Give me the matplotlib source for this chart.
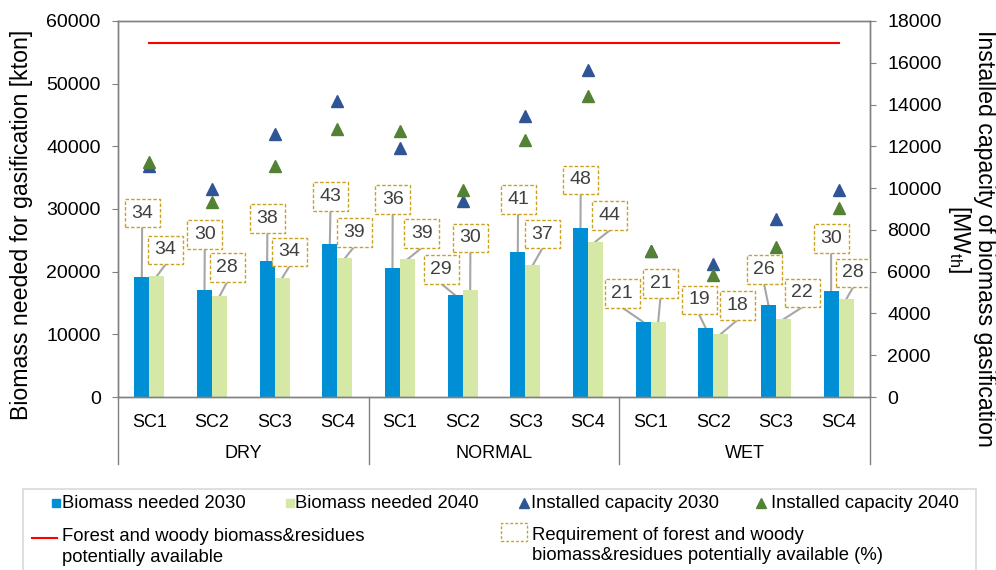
import numpy as np
import matplotlib
matplotlib.use('Agg')
import matplotlib.pyplot as plt
import matplotlib.transforms as mtransforms
from matplotlib.patches import Rectangle
from matplotlib.lines import Line2D

plt.rcParams['font.family'] = ['Liberation Sans', 'DejaVu Sans']
plt.rcParams['mathtext.fontset'] = 'custom'
plt.rcParams['mathtext.rm'] = 'Liberation Sans'

# data
scenarios = ['SC1', 'SC2', 'SC3', 'SC4'] * 3
years = ['DRY', 'NORMAL', 'WET']

biomass_2030 = [19150, 17120, 21650, 24360, 20530, 16230, 23140, 26910, 11970, 10960, 14630, 16910]
biomass_2040 = [19300, 16070, 18990, 22130, 21970, 17020, 21060, 24790, 11970, 10050, 12400, 15590]
capacity_2030 = [11060, 9970, 12600, 14170, 11900, 9400, 13450, 15670, 6990, 6370, 8520, 9890]
capacity_2040 = [11250, 9320, 11040, 12850, 12750, 9920, 12290, 14390, 7000, 5830, 7200, 9050]
forest_avail = [56500, 56500, 56500, 56500, 56500, 56500, 56500, 56500, 56500, 56500, 56500, 56500]
req_2030 = [34, 30, 38, 43, 36, 29, 41, 48, 21, 19, 26, 30]
req_2040 = [34, 28, 34, 39, 39, 30, 37, 44, 21, 18, 22, 28]

# where the % boxes sit (x offset from category, y in kton)
lab_dx_2030 = [-0.115, -0.115, -0.117, -0.11, -0.117, -0.343, -0.117, -0.117, -0.455, -0.228, -0.19, -0.121]
lab_y_2030 = [29360, 25960, 28520, 32000, 31550, 20380, 31550, 34630, 16570, 15480, 20300, 25340]
lab_dx_2040 = [0.26, 0.24, 0.235, 0.27, 0.35, 0.123, 0.27, 0.35, 0.156, 0.38, 0.416, 0.23]
lab_y_2040 = [23460, 20620, 23140, 26280, 26120, 25380, 25990, 28910, 18110, 14550, 16600, 19790]

BLUE = '#008FD5'
GREEN = '#D5E8A5'
TRI_BLUE = '#2F5597'
TRI_GREEN = '#548235'
RED = '#FF0000'
GOLD = '#C9A020'
GREY = '#808080'
LEAD = '#A6A6A6'
TXT = '#404040'

W, H = 996, 570
def fx(p):
    return p / W
def fy(p):
    return 1 - p / H

fig = plt.figure(figsize=(W / 100, H / 100), dpi=100)
ax_l, ax_r, ax_t, ax_b = 118, 870, 21, 397
ax = fig.add_axes([fx(ax_l), fy(ax_b), (ax_r - ax_l) / W, (ax_b - ax_t) / H])

x = np.arange(len(scenarios))
bw = 0.24
ax.bar(x - bw / 2, biomass_2030, bw, color=BLUE, zorder=2)
ax.bar(x + bw / 2, biomass_2040, bw, color=GREEN, zorder=2)
ax.plot(x, forest_avail, color=RED, lw=1.5, zorder=3)

ax.set_xlim(-0.5, len(x) - 0.5)
ax.set_ylim(0, 60000)
ax.set_yticks(np.arange(0, 60001, 10000))
ax.tick_params(axis='y', direction='out', length=4.5, color=GREY, labelsize=14, pad=8)
ax.set_xticks(x)
ax.set_xticklabels(scenarios, fontsize=13)
ax.tick_params(axis='x', length=0, pad=12)
for s in ax.spines.values():
    s.set_color(GREY)
    s.set_linewidth(1)

# category groups under the axis
blend = mtransforms.blended_transform_factory(ax.transData, ax.transAxes)
sep_len = (464 - ax_b) / (ax_b - ax_t)
for xs in [-0.5, 3.5, 7.5, 11.5]:
    ax.plot([xs, xs], [0, -sep_len], transform=blend, color=GREY, lw=1, clip_on=False)
grp_y = -(453 - ax_b) / (ax_b - ax_t)
for i, name in enumerate(years):
    ax.text(4 * i + 1.5, grp_y, name, transform=blend, ha='center', va='center', fontsize=13)

# % labels with leader lines
box_w, box_h = 0.35, 0.287
hh = box_h / 2 * fig.dpi * 60000 / (ax_b - ax_t)
def put_label(xb, yb, lx, ly, val):
    ax.plot([xb, lx], [yb, ly - hh], color=LEAD, lw=1.5, zorder=1.5)
    tr = fig.dpi_scale_trans + mtransforms.ScaledTranslation(lx, ly, ax.transData)
    r = Rectangle((-box_w / 2, -box_h / 2), box_w, box_h, transform=tr, facecolor='white',
                  edgecolor=GOLD, lw=1, linestyle=(0, (2.5, 1.5)), zorder=4)
    ax.add_artist(r)
    ax.text(lx, ly, str(val), ha='center', va='center', fontsize=14, color=TXT, zorder=5)

for i in range(len(x)):
    put_label(x[i] - bw / 2, biomass_2030[i], x[i] + lab_dx_2030[i], lab_y_2030[i], req_2030[i])
    put_label(x[i] + bw / 2, biomass_2040[i], x[i] + lab_dx_2040[i], lab_y_2040[i], req_2040[i])

ax2 = ax.twinx()
ax2.plot(x, capacity_2030, linestyle='none', marker='^', ms=9, color=TRI_BLUE, zorder=3)
ax2.plot(x, capacity_2040, linestyle='none', marker='^', ms=9, color=TRI_GREEN, zorder=4)
ax2.set_ylim(0, 18000)
ax2.set_yticks(np.arange(0, 18001, 2000))
ax2.tick_params(axis='y', direction='out', length=4.5, color=GREY, labelsize=14, pad=8)
for s in ax2.spines.values():
    s.set_color(GREY)
    s.set_linewidth(1)

# axis titles
fig.text(fx(22), fy(225), 'Biomass needed for gasification [kton]', rotation=90,
         ha='center', va='center', fontsize=16.7)
fig.text(fx(984), fy(238), 'Installed capacity of biomass gasification', rotation=270,
         ha='center', va='center', fontsize=16.7)
fig.text(fx(959), fy(239), r'[MW$_{\mathrm{th}}$]', rotation=270,
         ha='center', va='center', fontsize=16.7)

# legend, built by hand
fig.add_artist(Rectangle((fx(23.3), fy(580)), (976 - 23.3) / W, (580 - 489) / H,
                         transform=fig.transFigure, fill=False, edgecolor='#D9D9D9', lw=1.2))
fs_leg = 13.3
row1 = 503
fig.add_artist(Line2D([fx(56.3)], [fy(row1)], marker='s', ms=5.5, color=BLUE, transform=fig.transFigure))
fig.text(fx(61.7), fy(row1), 'Biomass needed 2030', ha='left', va='center', fontsize=fs_leg)
fig.add_artist(Line2D([fx(290)], [fy(row1)], marker='s', ms=5.5, color=GREEN, transform=fig.transFigure))
fig.text(fx(295), fy(row1), 'Biomass needed 2040', ha='left', va='center', fontsize=fs_leg)
fig.add_artist(Line2D([fx(523.5)], [fy(row1)], marker='^', ms=7, color=TRI_BLUE, transform=fig.transFigure))
fig.text(fx(531), fy(row1), 'Installed capacity 2030', ha='left', va='center', fontsize=fs_leg)
fig.add_artist(Line2D([fx(761)], [fy(row1)], marker='^', ms=7, color=TRI_GREEN, transform=fig.transFigure))
fig.text(fx(771), fy(row1), 'Installed capacity 2040', ha='left', va='center', fontsize=fs_leg)

fig.add_artist(Line2D([fx(31.7), fx(56.7)], [fy(538), fy(538)], color=RED, lw=1.5, transform=fig.transFigure))
fig.text(fx(61.7), fy(536.7), 'Forest and woody biomass&residues', ha='left', va='center', fontsize=fs_leg)
fig.text(fx(61.7), fy(558), 'potentially available', ha='left', va='center', fontsize=fs_leg)
fig.add_artist(Rectangle((fx(501), fy(541)), 25.7 / W, 18.3 / H, transform=fig.transFigure,
                         fill=False, edgecolor=GOLD, lw=1, linestyle=(0, (2, 1.5))))
fig.text(fx(532), fy(535), 'Requirement of forest and woody', ha='left', va='center', fontsize=fs_leg)
fig.text(fx(532), fy(555), 'biomass&residues potentially available (%)', ha='left', va='center', fontsize=fs_leg)

fig.savefig('out.png', dpi=100)
